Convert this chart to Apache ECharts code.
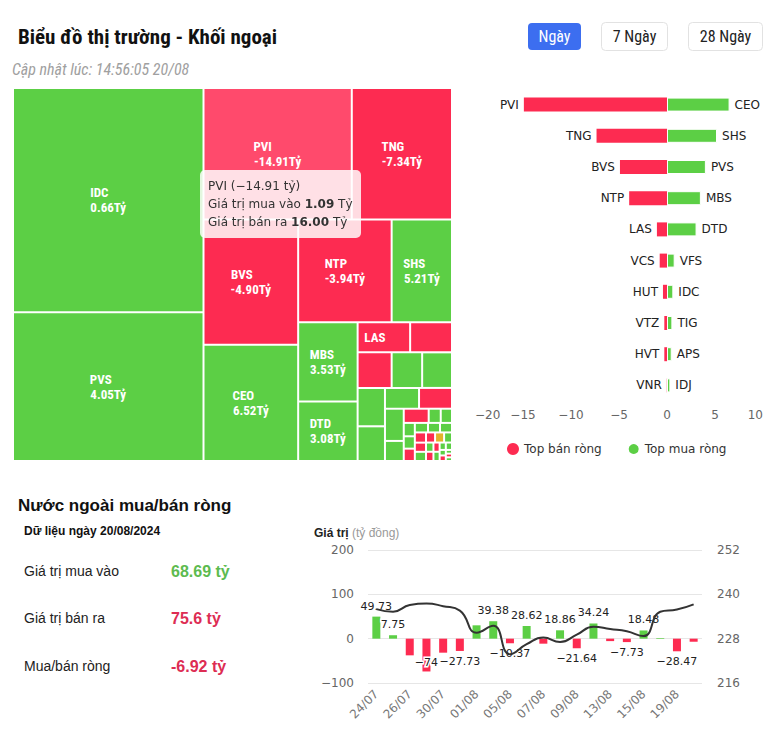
<!DOCTYPE html>
<html><head><meta charset="utf-8">
<script src="https://cdn.jsdelivr.net/npm/echarts@6/dist/echarts.min.js"></script>
<style>html,body{margin:0;padding:0;background:#fff}#c{width:776px;height:738px}</style>
</head><body><div id="c"></div><script>
// ---------- data ----------
const tmNames = ['IDC','PVS','PVI','TNG','BVS','CEO','NTP','SHS','MBS','DTD','LAS','VCS','HUT','VFS','TIG','APS','IDJ','NVB','VTZ','PLC','TVD','HVT',
  'BCC','NBC','PVC','VNR','SLS','L14','DHT','PSD','TAR','VC3','THD','S99','DTK','VMC','API','ART','CAP','HLD','KSV','MST','SCG','BAB','PVB','TVC','DL1'];
const tmTotal = [37.40,24.83,17.09,11.55,10.38,9.63,8.41,5.43,4.12,3.10,1.38,1.10,1.06,0.95,0.93,0.92,0.83,0.62,0.60,0.53,0.33,0.31,
  0.15,0.14,0.13,0.12,0.12,0.11,0.10,0.10,0.10,0.09,0.09,0.08,0.08,0.07,0.06,0.06,0.05,0.05,0.04,0.04,0.03,0.03,0.02,0.02,0.02];
const tmNet = [0.66,4.05,-14.91,-7.34,-4.90,6.52,-3.94,5.21,3.53,3.08,-1.05,-0.76,-0.42,0.80,0.56,0.49,0.35,0.30,-0.28,0.20,0.15,-0.28,
  0.05,0.04,0.03,-0.02,0.05,0.02,-0.01,0.02,0.03,0.02,-0.01,0,-0.01,0.01,-0.01,0.01,0.01,-0.01,0.01,0.01,-0.01,0.01,0.01,-0.01,0.01];

const sellNames = ['PVI','TNG','BVS','NTP','LAS','VCS','HUT','VTZ','HVT','VNR'];
const sellValues = [-14.91,-7.34,-4.90,-3.94,-1.05,-0.76,-0.42,-0.28,-0.28,-0.02];
const buyNames = ['CEO','SHS','PVS','MBS','DTD','VFS','IDC','TIG','APS','IDJ'];
const buyValues = [6.52,5.21,4.05,3.53,3.08,0.80,0.66,0.56,0.49,0.35];

const dates = ['24/07','25/07','26/07','29/07','30/07','31/07','01/08','02/08','05/08','06/08','07/08','08/08','09/08','12/08','13/08','14/08','15/08','16/08','19/08','20/08'];
const netFlow = [49.73,7.75,-37.6,-74,-31.6,-27.73,30.1,39.38,-10.37,28.62,-11.3,18.86,-21.64,34.24,-5.5,-7.73,18.48,1.5,-28.47,-6.92];
const indexLine = [236.0,235.3,237.1,237.5,236.8,235.6,229.6,231.5,223.8,226.5,228.3,227.1,229.1,231.2,230.6,230.0,228.7,235.3,235.9,237.3];
const hiddenFlowLabels = [2,4,6,10,14,17,19];

const dayBuy = 68.69, daySell = 75.6, dayNet = -6.92;
const dayLabel = '20/08/2024';
const updateTime = '14:56:05 20/08';

// ---------- style ----------
const RED = '#fd2b51', GREEN = '#5ccf45', YELLOW = '#e2b32a';
const NARROW = '"Roboto Condensed","Liberation Sans Narrow","Arial Narrow","DejaVu Sans Condensed",Roboto,sans-serif';
const DV = '"DejaVu Sans",sans-serif';
const LS = '"Liberation Sans",Arial,sans-serif';
const TM_FONT = 'bold 13px ' + NARROW;
const minus = v => (v < 0 ? '\u2212' + Math.abs(v) : String(v));

// left-align the two label lines inside a centred block by padding the shorter line
const mctx = document.createElement('canvas').getContext('2d');
function padLine(a, b) {
  mctx.font = TM_FONT;
  const w1 = mctx.measureText(a).width, w2 = mctx.measureText(b).width, sp = mctx.measureText('\u00a0').width || 3;
  const n = Math.max(0, Math.round((w2 - w1) / sp));
  return a + '\u00a0'.repeat(n);
}

const tmData = tmNames.map((n, i) => {
  const net = tmNet[i];
  const c = net > 0 ? GREEN : net < 0 ? RED : YELLOW;
  const ec = net > 0 ? '#7ddd66' : net < 0 ? '#ff4a6c' : '#eec64a';
  return { name: n, value: tmTotal[i], net: net, itemStyle: { color: c }, emphasis: { itemStyle: { color: ec } } };
});

const flowData = netFlow.map((v, i) => ({
  value: v,
  itemStyle: { color: v >= 0 ? GREEN : RED },
  label: { position: v >= 0 ? 'top' : 'bottom' }
}));

const chart = echarts.init(document.getElementById('c'), null, { renderer: 'svg' });

const option = {
  animation: false,
  tooltip: {
    trigger: 'item',
    alwaysShowContent: true,
    position: [200, 170],
    backgroundColor: 'rgba(255,255,255,0.83)',
    borderWidth: 0,
    padding: [7, 8],
    extraCssText: 'box-shadow:none;border-radius:5px;line-height:18px;',
    textStyle: { fontFamily: DV, fontSize: 12, color: '#333' },
    formatter: p => {
      if (p.seriesType !== 'treemap') return '';
      const d = p.data;
      const buy = (d.value + d.net) / 2, sell = (d.value - d.net) / 2;
      return d.name + ' (' + minus(d.net.toFixed(2) * 1) + ' tỷ)<br/>' +
        'Giá trị mua vào <b>' + buy.toFixed(2) + '</b> Tỷ<br/>' +
        'Giá trị bán ra <b>' + sell.toFixed(2) + '</b> Tỷ';
    }
  },
  legend: {
    data: ['Top bán ròng', 'Top mua ròng'],
    left: 502, top: 437, icon: 'circle', itemWidth: 12, itemHeight: 12, itemGap: 25,
    textStyle: { fontFamily: DV, fontSize: 12, color: '#333' }
  },
  grid: [
    { left: 475, top: 89, width: 288, height: 312 },
    { left: 368, top: 550, width: 334, height: 133 }
  ],
  xAxis: [
    { gridIndex: 0, type: 'value', min: -20, max: 10, interval: 5,
      axisLine: { show: false }, axisTick: { show: false }, splitLine: { show: false },
      axisLabel: { color: '#666', fontFamily: DV, fontSize: 12, margin: 8, alignMinLabel: 'left', alignMaxLabel: 'right',
        formatter: v => minus(v) } },
    { gridIndex: 1, type: 'category', data: dates,
      axisLine: { show: false, onZero: false }, axisTick: { show: false },
      axisLabel: { rotate: 45, interval: 1, color: '#777', fontFamily: DV, fontSize: 12, margin: 9 } }
  ],
  yAxis: [
    { gridIndex: 0, type: 'category', data: sellNames, inverse: true, show: false },
    { gridIndex: 1, type: 'value', min: -100, max: 200, interval: 100, position: 'left',
      axisLine: { show: false }, axisTick: { show: false },
      splitLine: { lineStyle: { color: '#e6e6e6' } },
      axisLabel: { color: '#666', fontFamily: DV, fontSize: 12, margin: 14, formatter: v => minus(v) } },
    { gridIndex: 1, type: 'value', min: 216, max: 252, interval: 12, position: 'right',
      axisLine: { show: false }, axisTick: { show: false }, splitLine: { show: false },
      axisLabel: { color: '#666', fontFamily: DV, fontSize: 12, margin: 15 } }
  ],
  series: [
    {
      type: 'treemap', name: 'Khối ngoại',
      left: 12, top: 87, width: 441, height: 375,
      roam: false, nodeClick: false, breadcrumb: { show: false },
      squareRatio: 0.875, visibleMin: 0,
      itemStyle: { borderColor: '#fff', borderWidth: 1, gapWidth: 0 },
      label: {
        show: true, position: 'inside', align: 'center', verticalAlign: 'middle',
        fontFamily: NARROW, fontWeight: 'bold', fontSize: 13, lineHeight: 15, color: '#fff',
        formatter: p => {
          if (p.value < 1.3) return '';
          const v = p.data.net.toFixed(2) + 'Tỷ';
          return padLine(p.name, v) + '\n' + v;
        }
      },
      data: tmData
    },
    {
      type: 'bar', name: 'Top bán ròng', xAxisIndex: 0, yAxisIndex: 0, stack: 'rank',
      data: sellValues, barWidth: 14,
      itemStyle: { color: RED },
      label: { show: true, position: 'left', distance: 5, color: '#222', fontFamily: DV, fontSize: 12,
        formatter: p => sellNames[p.dataIndex] }
    },
    {
      type: 'bar', name: 'Top mua ròng', xAxisIndex: 0, yAxisIndex: 0, stack: 'rank',
      data: buyValues, barWidth: 14,
      itemStyle: { color: GREEN, borderColor: '#fff', borderWidth: 1 },
      label: { show: true, position: 'right', distance: 5, color: '#222', fontFamily: DV, fontSize: 12,
        formatter: p => buyNames[p.dataIndex] }
    },
    {
      type: 'bar', name: 'Mua/bán ròng', xAxisIndex: 1, yAxisIndex: 1,
      data: flowData, barWidth: 8,
      label: { show: true, distance: 5, color: '#222', fontFamily: DV, fontSize: 11,
        textBorderColor: '#fff', textBorderWidth: 3,
        formatter: p => hiddenFlowLabels.indexOf(p.dataIndex) >= 0 ? '' : minus(p.value) },
      labelLayout: p => (p.labelRect.y > 655 ? { dy: 655 - p.labelRect.y } : {})
    },
    {
      type: 'line', name: 'HNX', xAxisIndex: 1, yAxisIndex: 2,
      data: indexLine, smooth: true, symbol: 'none',
      lineStyle: { color: '#333', width: 2 }
    }
  ],
  graphic: [
    { type: 'text', x: 18, y: 37, style: { text: 'Biểu đồ thị trường - Khối ngoại', font: 'bold 21px ' + NARROW, fill: '#111', verticalAlign: 'middle' } },
    { type: 'rect', shape: { x: 528, y: 23, width: 53, height: 27, r: 4 }, style: { fill: '#3c6ef0' } },
    { type: 'text', x: 554.5, y: 36.5, style: { text: 'Ngày', font: '16px ' + NARROW, fill: '#fff', align: 'center', verticalAlign: 'middle' } },
    { type: 'rect', shape: { x: 601.5, y: 22.5, width: 66, height: 28, r: 4 }, style: { fill: '#fff', stroke: '#e2e2e2', lineWidth: 1 } },
    { type: 'text', x: 634.5, y: 36.5, style: { text: '7 Ngày', font: '16px ' + NARROW, fill: '#222', align: 'center', verticalAlign: 'middle' } },
    { type: 'rect', shape: { x: 688.5, y: 22.5, width: 74, height: 28, r: 4 }, style: { fill: '#fff', stroke: '#e2e2e2', lineWidth: 1 } },
    { type: 'text', x: 725.5, y: 36.5, style: { text: '28 Ngày', font: '16px ' + NARROW, fill: '#222', align: 'center', verticalAlign: 'middle' } },
    { type: 'text', x: 12, y: 69, style: { text: 'Cập nhật lúc: ' + updateTime, font: 'italic 16px ' + NARROW, fill: '#a0a0a0', verticalAlign: 'middle' } },
    { type: 'text', x: 18, y: 505, style: { text: 'Nước ngoài mua/bán ròng', font: 'bold 17px ' + LS, fill: '#111', verticalAlign: 'middle' } },
    { type: 'text', x: 24, y: 531, style: { text: 'Dữ liệu ngày ' + dayLabel, font: 'bold 12px ' + LS, fill: '#111', verticalAlign: 'middle' } },
    { type: 'text', x: 24, y: 571, style: { text: 'Giá trị mua vào', font: '14px ' + LS, fill: '#222', verticalAlign: 'middle' } },
    { type: 'text', x: 171, y: 571, style: { text: dayBuy + ' tỷ', font: 'bold 16px ' + LS, fill: '#5dbb4f', verticalAlign: 'middle' } },
    { type: 'text', x: 24, y: 618, style: { text: 'Giá trị bán ra', font: '14px ' + LS, fill: '#222', verticalAlign: 'middle' } },
    { type: 'text', x: 171, y: 618, style: { text: daySell + ' tỷ', font: 'bold 16px ' + LS, fill: '#dd2d53', verticalAlign: 'middle' } },
    { type: 'text', x: 24, y: 666, style: { text: 'Mua/bán ròng', font: '14px ' + LS, fill: '#222', verticalAlign: 'middle' } },
    { type: 'text', x: 171, y: 666, style: { text: dayNet + ' tỷ', font: 'bold 16px ' + LS, fill: '#dd2d53', verticalAlign: 'middle' } },
    { type: 'text', x: 314, y: 533, style: {
        text: '{b|Giá trị} {g|(tỷ đồng)}', verticalAlign: 'middle',
        rich: { b: { font: 'bold 12px ' + LS, fill: '#222' }, g: { font: '12px ' + LS, fill: '#999' } } } }
  ]
};
chart.setOption(option);
chart.dispatchAction({ type: 'highlight', seriesIndex: 0, name: 'PVI' });
chart.dispatchAction({ type: 'showTip', x: 277, y: 130 });
</script></body></html>
